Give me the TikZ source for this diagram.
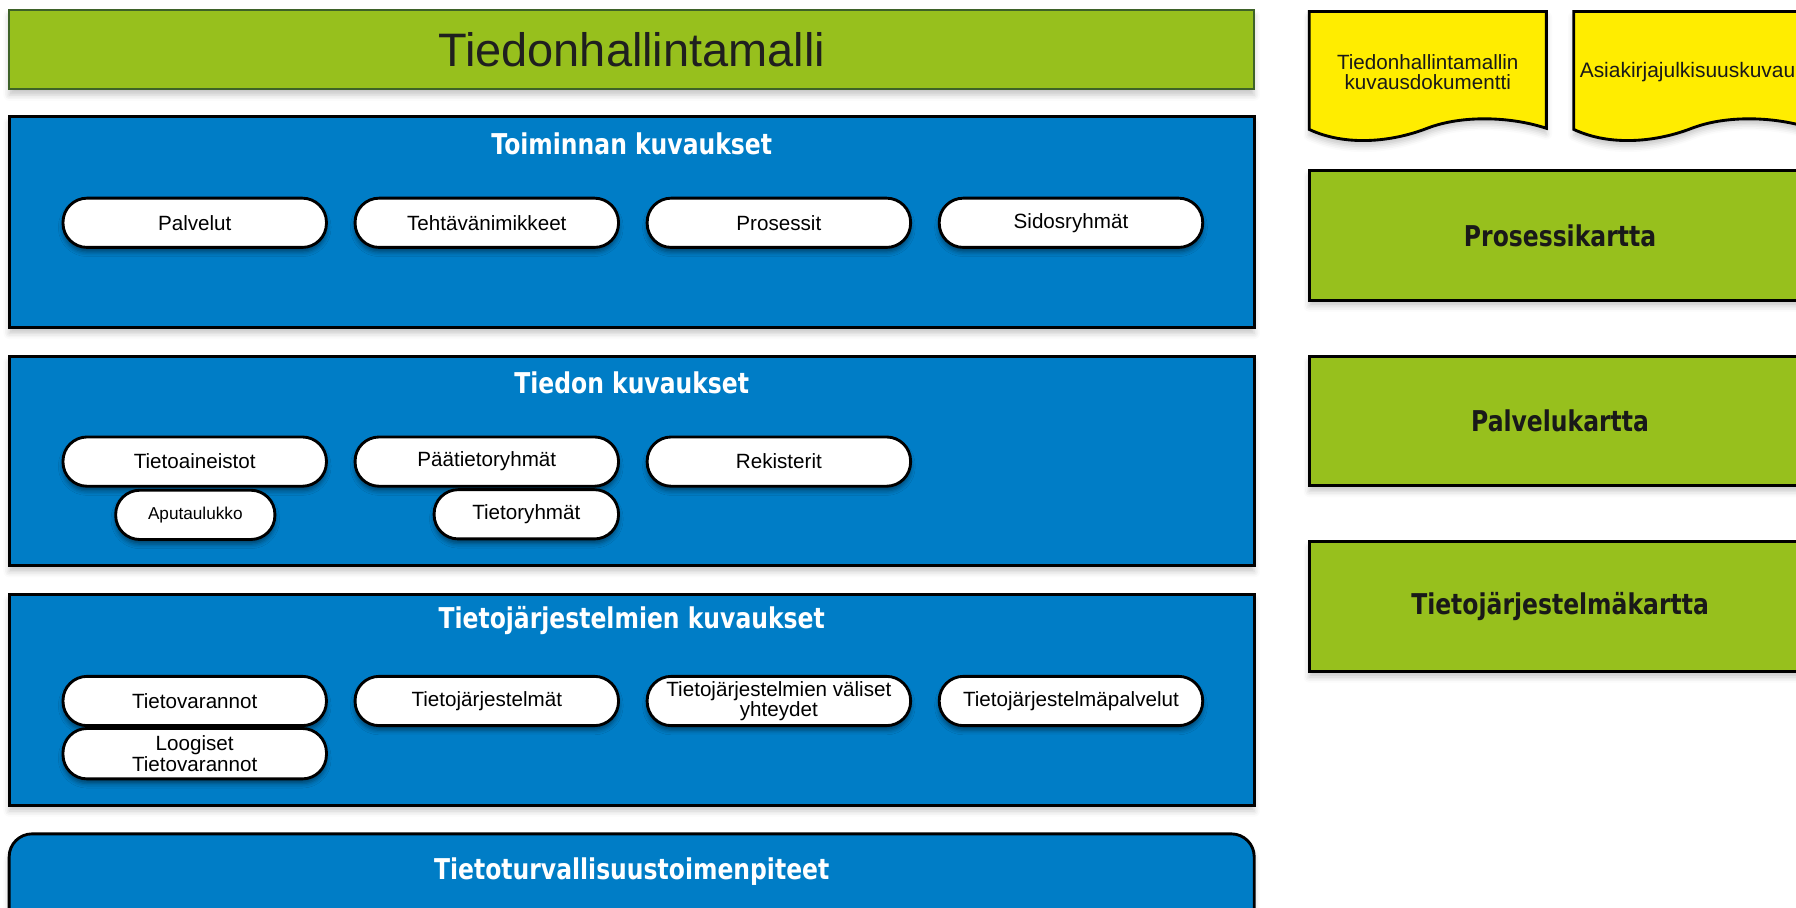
\documentclass[tikz,border=0pt]{standalone}
\usepackage{fontspec}
\setmainfont{Liberation Sans}
\newfontfamily\headfont{DejaVu Sans}[FakeStretch=0.82]
\usetikzlibrary{shadows.blur}

\definecolor{leaf}{RGB}{151,192,29}
\definecolor{leafedge}{RGB}{62,98,40}
\definecolor{sea}{RGB}{0,125,198}
\definecolor{lemon}{RGB}{255,237,0}

\tikzset{
  softshadow/.style={blur shadow={shadow xshift=0pt, shadow yshift=-5pt,
      shadow blur radius=5pt, shadow opacity=22}},
  pillshadow/.style={blur shadow={shadow xshift=0pt, shadow yshift=-4pt,
      shadow blur radius=4pt, shadow opacity=45}},
  titlebar/.style={draw=leafedge, line width=1.8pt, fill=leaf, softshadow,
      minimum width=1087pt, minimum height=69pt, inner sep=0pt,
      font=\fontsize{41}{45}\selectfont, text=black!88},
  panel/.style={draw=black, line width=2.5pt, fill=sea, softshadow,
      minimum width=1087pt, inner sep=0pt},
  head/.style={font=\headfont\bfseries\fontsize{25}{28}\selectfont, text=white, inner sep=0pt},
  pill/.style={draw=black, line width=2.5pt, fill=white, pillshadow,
      minimum width=230pt, minimum height=43pt, rounded corners=21pt,
      inner sep=0pt, align=center, font=\fontsize{18}{16.5}\selectfont},
  mapbox/.style={draw=black, line width=2.5pt, fill=leaf, softshadow,
      minimum width=438pt, minimum height=113pt, inner sep=0pt,
      font=\headfont\bfseries\fontsize{25}{28}\selectfont, text=black!90},
  docshape/.style={draw=black, line width=2.5pt, fill=lemon, softshadow},
  doctext/.style={inner sep=0pt, align=center, font=\fontsize{18}{17}\selectfont, text=black!90}
}

\begin{document}
\begin{tikzpicture}[x=1pt, y=-1pt]
\useasboundingbox (0,0) rectangle (1568,792);
\clip (0,0) rectangle (1568,792);

% title bar
\node[titlebar] (model) at (551.5,43.5) {Tiedonhallintamalli};

% operational descriptions
\node[panel, minimum height=184pt] (toim) at (551.5,194) {};
\node[head] (toimh) at (551.5,126) {Toiminnan kuvaukset};
\node[pill] (palv) at (170,194.5) {Palvelut};
\node[pill] (teht) at (425,194.5) {Tehtävänimikkeet};
\node[pill] (pros) at (680,194.5) {Prosessit};
\node[pill] (sido) at (935,194.5) {Sidosryhmät};

% information descriptions
\node[panel, minimum height=183pt] (tied) at (551.5,402.5) {};
\node[head] (tiedh) at (551.5,334) {Tiedon kuvaukset};
\node[pill] (aine) at (170,403) {Tietoaineistot};
\node[pill] (paat) at (425,403) {Päätietoryhmät};
\node[pill] (reki) at (680,403) {Rekisterit};
\node[pill, minimum width=139pt, font=\fontsize{15}{16}\selectfont] (aputa) at (170.5,449.5) {Aputaulukko};
\node[pill, minimum width=161pt] (tryh) at (459.5,449) {Tietoryhmät};

% information system descriptions
\node[panel, minimum height=184pt] (tjar) at (551.5,611) {};
\node[head] (tjarh) at (551.5,542) {Tietojärjestelmien kuvaukset};
\node[pill] (tvar) at (170,612) {Tietovarannot};
\node[pill] (tjs) at (425,612) {Tietojärjestelmät};
\node[pill] (valy) at (680,612) {Tietojärjestelmien väliset\\yhteydet};
\node[pill] (tjpa) at (935,612) {Tietojärjestelmäpalvelut};
\node[pill, minimum height=44pt] (loog) at (170,658) {Loogiset\\Tietovarannot};

% security measures
\node[panel, rounded corners=20pt, minimum height=100pt] (ttur) at (551.5,778) {};
\node[head] (tturh) at (551.5,761) {Tietoturvallisuustoimenpiteet};

% documents
\path[docshape] (1143,10) -- (1350,10) -- (1350,112)
  .. controls (1320,102) and (1277,100) .. (1246,112)
  .. controls (1215,124) and (1175,128) .. (1143,113) -- cycle;
\node[doctext] (doc1) at (1246.5,63) {Tiedonhallintamallin\\kuvausdokumentti};
\path[docshape] (1374,10) -- (1581,10) -- (1581,112)
  .. controls (1551,102) and (1508,100) .. (1477,112)
  .. controls (1446,124) and (1406,128) .. (1374,113) -- cycle;
\node[doctext, anchor=west, font=\fontsize{18.3}{17}\selectfont] (doc2) at (1379,63) {Asiakirjajulkisuuskuvau};

% maps
\node[mapbox] (pkar) at (1362,205.5) {Prosessikartta};
\node[mapbox] (palk) at (1362,367.5) {Palvelukartta};
\node[mapbox] (tjk) at (1362,529.5) {Tietojärjestelmäkartta};
\end{tikzpicture}
\end{document}
